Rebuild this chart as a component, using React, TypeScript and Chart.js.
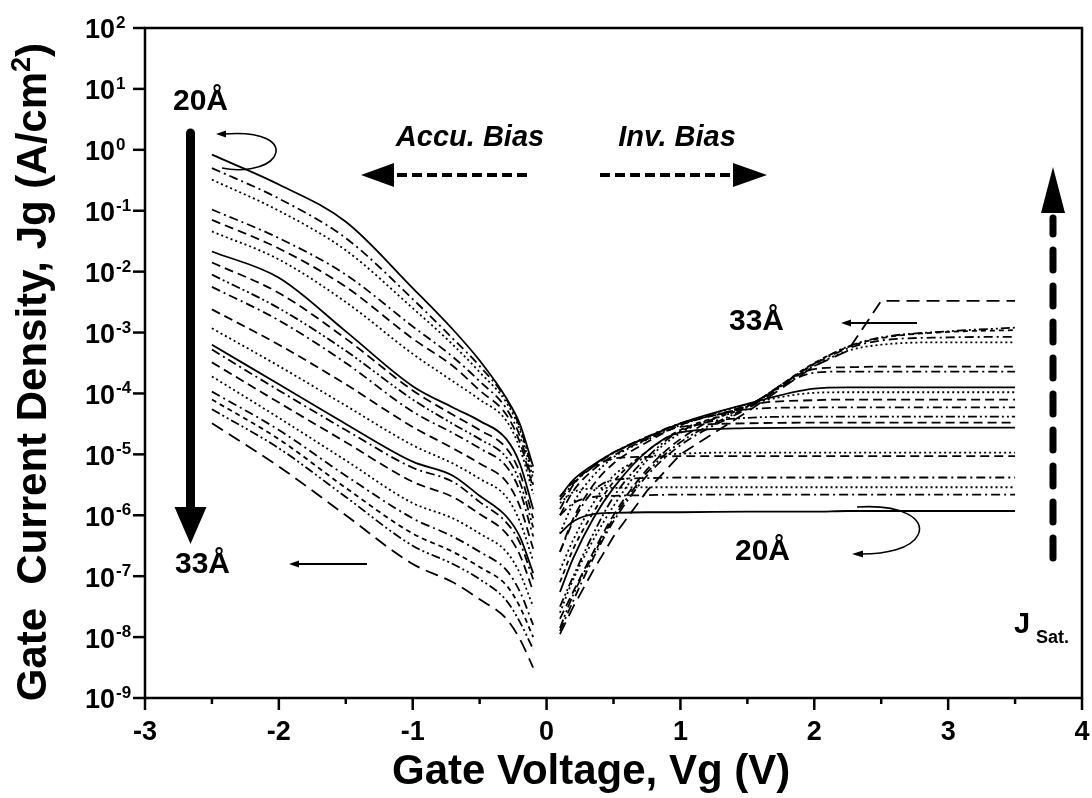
import React, { useEffect, useRef } from 'react';
import { Chart, registerables } from 'chart.js';

Chart.register(...registerables);

// Gate voltage grids (V)
const accuVg = [-2.5, -2.0, -1.5, -1.0, -0.7, -0.5, -0.3, -0.2, -0.1];
const invVg = [0.1, 0.2, 0.35, 0.5, 0.75, 1.0, 1.5, 2.0, 2.25, 2.5, 3.0, 3.5];

// log10(Jg) in accumulation bias, one row per oxide thickness (20 Å ... 33 Å)
const accuLogJ = [
  [-0.08, -0.57, -1.18, -2.27, -2.95, -3.46, -4.08, -4.5, -5.2],
  [-0.3, -0.8, -1.45, -2.45, -3.1, -3.55, -4.1, -4.55, -5.3],
  [-0.49, -1.0, -1.65, -2.6, -3.2, -3.65, -4.15, -4.6, -5.4],
  [-0.98, -1.45, -2.05, -2.9, -3.4, -3.8, -4.25, -4.7, -5.5],
  [-1.15, -1.62, -2.25, -3.1, -3.55, -3.95, -4.35, -4.8, -5.55],
  [-1.34, -1.8, -2.5, -3.35, -3.8, -4.1, -4.45, -4.9, -5.65],
  [-1.67, -2.1, -2.98, -3.88, -4.23, -4.45, -4.75, -5.15, -5.9],
  [-1.85, -2.35, -3.1, -3.95, -4.35, -4.6, -4.9, -5.3, -6.05],
  [-2.05, -2.6, -3.3, -4.1, -4.5, -4.75, -5.05, -5.45, -6.2],
  [-2.25, -2.8, -3.5, -4.3, -4.65, -4.9, -5.2, -5.6, -6.35],
  [-2.62, -3.2, -3.85, -4.55, -4.9, -5.15, -5.45, -5.85, -6.55],
  [-2.93, -3.55, -4.2, -4.85, -5.15, -5.4, -5.7, -6.1, -6.75],
  [-3.2, -3.85, -4.5, -5.12, -5.35, -5.68, -6.02, -6.35, -6.95],
  [-3.28, -3.95, -4.6, -5.22, -5.45, -5.78, -6.12, -6.45, -7.05],
  [-3.49, -4.15, -4.8, -5.45, -5.7, -5.98, -6.3, -6.65, -7.25],
  [-3.72, -4.4, -5.1, -5.8, -6.05, -6.3, -6.6, -6.95, -7.5],
  [-3.97, -4.6, -5.35, -6.05, -6.35, -6.6, -6.9, -7.25, -7.8],
  [-4.1, -4.75, -5.55, -6.3, -6.6, -6.85, -7.15, -7.5, -8.0],
  [-4.26, -4.9, -5.7, -6.5, -6.8, -7.05, -7.4, -7.75, -8.2],
  [-4.49, -5.2, -6.0, -6.8, -7.1, -7.38, -7.7, -8.03, -8.5],
];

// log10(Jg) in inversion bias, same row order
const invLogJ = [
  [-6.3, -6.1, -5.98, -5.96, -5.95, -5.95, -5.94, -5.94, -5.93, -5.93, -5.93, -5.93],
  [-6.0, -5.8, -5.7, -5.68, -5.67, -5.66, -5.66, -5.66, -5.66, -5.66, -5.66, -5.66],
  [-5.8, -5.62, -5.56, -5.55, -5.54, -5.54, -5.54, -5.54, -5.54, -5.54, -5.54, -5.54],
  [-6.6, -6.1, -5.6, -5.42, -5.39, -5.38, -5.38, -5.38, -5.38, -5.38, -5.38, -5.38],
  [-5.7, -5.45, -5.2, -5.07, -5.04, -5.03, -5.03, -5.03, -5.03, -5.03, -5.03, -5.03],
  [-6.9, -6.4, -5.8, -5.35, -5.05, -4.99, -4.97, -4.97, -4.97, -4.97, -4.97, -4.97],
  [-7.26, -6.7, -6.05, -5.55, -4.95, -4.64, -4.57, -4.56, -4.56, -4.56, -4.56, -4.56],
  [-6.0, -5.6, -5.25, -5.02, -4.75, -4.55, -4.49, -4.48, -4.48, -4.48, -4.48, -4.48],
  [-7.5, -7.0, -6.3, -5.7, -5.05, -4.62, -4.4, -4.38, -4.38, -4.38, -4.38, -4.38],
  [-5.75, -5.48, -5.2, -4.98, -4.72, -4.5, -4.26, -4.23, -4.23, -4.23, -4.23, -4.23],
  [-7.7, -7.25, -6.6, -6.0, -5.25, -4.75, -4.2, -4.11, -4.1, -4.1, -4.1, -4.1],
  [-6.3, -5.8, -5.35, -5.05, -4.76, -4.52, -4.18, -3.99, -3.98, -3.98, -3.98, -3.98],
  [-5.69, -5.42, -5.17, -4.97, -4.72, -4.49, -4.17, -3.92, -3.9, -3.9, -3.9, -3.9],
  [-7.9, -7.4, -6.7, -6.1, -5.35, -4.85, -4.25, -3.66, -3.64, -3.64, -3.64, -3.64],
  [-6.6, -6.05, -5.5, -5.15, -4.8, -4.52, -4.2, -3.6, -3.57, -3.56, -3.56, -3.56],
  [-7.6, -7.05, -6.4, -5.85, -5.1, -4.65, -4.21, -3.55, -3.3, -3.2, -3.16, -3.16],
  [-5.9, -5.5, -5.18, -4.97, -4.71, -4.49, -4.2, -3.52, -3.26, -3.13, -3.08, -3.07],
  [-7.1, -6.55, -5.95, -5.45, -4.95, -4.6, -4.21, -3.5, -3.24, -3.09, -2.99, -2.96],
  [-7.85, -7.3, -6.65, -6.05, -5.3, -4.8, -4.22, -3.51, -3.23, -3.08, -2.98, -2.92],
  [-7.95, -7.5, -6.9, -6.35, -5.6, -5.0, -4.3, -3.55, -3.3, -2.48, -2.48, -2.48],
];

const lineStyles = [
  'solid', 'dashdot', 'dot', 'dashdot', 'dash', 'dot', 'solid', 'dash', 'dashdotdot', 'dashdot',
  'dash', 'dot', 'solid', 'dashdot', 'dash', 'dot', 'dashdot', 'shortdash', 'dashdotdot', 'longdash',
];

const xMajorTicks = [-3, -2, -1, 0, 1, 2, 3, 4];
const xMinorTicks = [-2.5, -1.5, -0.5, 0.5, 1.5, 2.5, 3.5];
const yExponents = [2, 1, 0, -1, -2, -3, -4, -5, -6, -7, -8, -9];

const DASH: Record<string, number[]> = {
  solid: [],
  dash: [9, 5],
  dashdot: [9, 4, 2, 4],
  dot: [2, 3],
  dashdotdot: [9, 3, 2, 3, 2, 3],
  shortdash: [5, 4],
  longdash: [13, 7],
};

const FONT = '"Liberation Sans", Arial, Helvetica, sans-serif';

function arrowHead(ctx: CanvasRenderingContext2D, tipX: number, tipY: number, dx: number, dy: number, len: number, half: number) {
  const bx = tipX - dx * len;
  const by = tipY - dy * len;
  ctx.beginPath();
  ctx.moveTo(tipX, tipY);
  ctx.lineTo(bx - dy * half, by + dx * half);
  ctx.lineTo(bx + dy * half, by - dx * half);
  ctx.closePath();
  ctx.fill();
}

const annotPlugin = {
  id: 'annot',
  afterDraw(chart: any) {
    const { ctx, chartArea: a, scales } = chart;
    const xs = scales.x;
    const ys = scales.y;
    ctx.save();
    ctx.strokeStyle = '#000';
    ctx.fillStyle = '#000';
    ctx.setLineDash([]);

    // frame
    ctx.lineWidth = 2.5;
    ctx.strokeRect(a.left, a.top, a.right - a.left, a.bottom - a.top);

    // x ticks
    for (const v of xMajorTicks) {
      const px = xs.getPixelForValue(v);
      ctx.beginPath();
      ctx.moveTo(px, a.bottom);
      ctx.lineTo(px, a.bottom + 12);
      ctx.stroke();
    }
    for (const v of xMinorTicks) {
      const px = xs.getPixelForValue(v);
      ctx.beginPath();
      ctx.moveTo(px, a.bottom);
      ctx.lineTo(px, a.bottom + 6);
      ctx.stroke();
    }
    // y ticks
    for (const e of yExponents) {
      const py = ys.getPixelForValue(Math.pow(10, e));
      ctx.beginPath();
      ctx.moveTo(a.left - 12, py);
      ctx.lineTo(a.left, py);
      ctx.stroke();
    }

    // x tick labels
    ctx.font = `bold 27px ${FONT}`;
    ctx.textAlign = 'center';
    ctx.textBaseline = 'middle';
    for (const v of xMajorTicks) {
      ctx.fillText(String(v), xs.getPixelForValue(v), a.bottom + 35);
    }
    // y tick labels 10^n
    for (const e of yExponents) {
      const py = ys.getPixelForValue(Math.pow(10, e));
      ctx.font = `bold 27px ${FONT}`;
      ctx.textAlign = 'right';
      ctx.textBaseline = 'middle';
      ctx.fillText('10', a.left - 30, py + 3);
      ctx.font = `bold 17px ${FONT}`;
      ctx.textAlign = 'left';
      ctx.textBaseline = 'alphabetic';
      ctx.fillText(String(e), a.left - 29, py);
    }

    // axis titles
    ctx.font = `bold 42px ${FONT}`;
    ctx.textAlign = 'left';
    ctx.textBaseline = 'alphabetic';
    ctx.fillText('Gate Voltage, Vg (V)', 392, 784);

    ctx.save();
    ctx.translate(46, 0);
    ctx.rotate(-Math.PI / 2);
    const t1 = 'Gate  Current Density, Jg (A/cm';
    const t2 = '2';
    const t3 = ')';
    ctx.font = `bold 42px ${FONT}`;
    const w1 = ctx.measureText(t1).width;
    const w3 = ctx.measureText(t3).width;
    ctx.font = `bold 27px ${FONT}`;
    const w2 = ctx.measureText(t2).width;
    const total = w1 + w2 + w3;
    const start = -43 - total;
    ctx.textAlign = 'left';
    ctx.font = `bold 42px ${FONT}`;
    ctx.fillText(t1, start, 0);
    ctx.font = `bold 27px ${FONT}`;
    ctx.fillText(t2, start + w1, -16);
    ctx.font = `bold 42px ${FONT}`;
    ctx.fillText(t3, start + w1 + w2, 0);
    ctx.restore();

    // ---- annotations ----
    ctx.font = `bold 30px ${FONT}`;
    ctx.textAlign = 'left';
    ctx.textBaseline = 'alphabetic';
    ctx.fillText('20Å', 173, 110);
    ctx.fillText('33Å', 175, 573);
    ctx.fillText('33Å', 729, 330);
    ctx.fillText('20Å', 735, 560);

    // big thickness arrow (down)
    ctx.lineWidth = 9;
    ctx.lineCap = 'round';
    ctx.beginPath();
    ctx.moveTo(190.5, 133);
    ctx.lineTo(190.5, 510);
    ctx.stroke();
    ctx.lineCap = 'butt';
    arrowHead(ctx, 190.5, 544, 0, 1, 37, 16);

    // thin arrows
    ctx.lineWidth = 2;
    ctx.beginPath();
    ctx.moveTo(367, 564);
    ctx.lineTo(296, 564);
    ctx.stroke();
    arrowHead(ctx, 289, 564, -1, 0, 10, 3.5);
    ctx.beginPath();
    ctx.moveTo(917, 323);
    ctx.lineTo(848, 323);
    ctx.stroke();
    arrowHead(ctx, 841, 323, -1, 0, 10, 3.5);

    // loop arrow (top-left)
    ctx.lineWidth = 1.6;
    ctx.beginPath();
    ctx.moveTo(224, 134);
    ctx.bezierCurveTo(262, 131, 283, 142, 274, 157);
    ctx.bezierCurveTo(266, 169, 240, 172, 222, 168);
    ctx.stroke();
    arrowHead(ctx, 216, 134, -1, 0, 10, 3.5);

    // loop arrow (right)
    ctx.beginPath();
    ctx.moveTo(857, 507);
    ctx.bezierCurveTo(902, 504, 926, 519, 918, 535);
    ctx.bezierCurveTo(911, 549, 885, 554, 862, 554);
    ctx.stroke();
    arrowHead(ctx, 852, 554, -1, 0, 11, 3.5);

    // bias texts
    ctx.font = `italic bold 29px ${FONT}`;
    ctx.textAlign = 'center';
    ctx.fillText('Accu. Bias', 470, 146);
    ctx.fillText('Inv. Bias', 677, 146);

    // dashed bias arrows
    ctx.lineWidth = 4;
    ctx.setLineDash([10, 5]);
    ctx.beginPath();
    ctx.moveTo(527, 175);
    ctx.lineTo(393, 175);
    ctx.stroke();
    ctx.beginPath();
    ctx.moveTo(600, 175);
    ctx.lineTo(733, 175);
    ctx.stroke();
    ctx.setLineDash([]);
    arrowHead(ctx, 361, 175, -1, 0, 33, 12);
    arrowHead(ctx, 767, 175, 1, 0, 34, 12);

    // J_sat vertical dashed arrow
    ctx.lineWidth = 7;
    ctx.lineCap = 'round';
    ctx.setLineDash([20, 16]);
    ctx.beginPath();
    ctx.moveTo(1053, 558);
    ctx.lineTo(1053, 218);
    ctx.stroke();
    ctx.setLineDash([]);
    ctx.lineCap = 'butt';
    arrowHead(ctx, 1053, 167, 0, -1, 46, 12);

    ctx.font = `bold 29px ${FONT}`;
    ctx.textAlign = 'left';
    ctx.fillText('J', 1014, 633);
    ctx.font = `bold 18px ${FONT}`;
    ctx.fillText('Sat.', 1036, 643);

    ctx.restore();
  },
};

export default function App() {
  const ref = useRef<HTMLCanvasElement | null>(null);

  useEffect(() => {
    if (!ref.current) return;
    const datasets: any[] = [];
    accuLogJ.forEach((row, i) => {
      datasets.push({
        data: accuVg.map((x, k) => ({ x, y: Math.pow(10, row[k]) })),
        borderColor: '#000',
        borderWidth: 1.8,
        borderDash: DASH[lineStyles[i]],
        pointRadius: 0,
        fill: false,
        cubicInterpolationMode: 'monotone',
      });
    });
    invLogJ.forEach((row, i) => {
      const last = i === invLogJ.length - 1;
      datasets.push({
        data: invVg.map((x, k) => ({ x, y: Math.pow(10, row[k]) })),
        borderColor: '#000',
        borderWidth: 1.8,
        borderDash: DASH[lineStyles[i]],
        pointRadius: 0,
        fill: false,
        cubicInterpolationMode: last ? 'default' : 'monotone',
        tension: last ? 0 : 0.4,
      });
    });

    const chart = new Chart(ref.current, {
      type: 'line',
      data: { datasets },
      options: {
        responsive: false,
        animation: false,
        events: [],
        layout: { padding: { top: 28, right: 10, left: 0, bottom: 0 } },
        plugins: { legend: { display: false }, tooltip: { enabled: false } },
        scales: {
          x: {
            type: 'linear',
            min: -3,
            max: 4,
            ticks: { display: false },
            grid: { display: false },
            border: { display: false },
            afterFit: (s: any) => {
              s.height = 100;
            },
          },
          y: {
            type: 'logarithmic',
            min: 1e-9,
            max: 1e2,
            ticks: { display: false },
            grid: { display: false },
            border: { display: false },
            afterFit: (s: any) => {
              s.width = 145;
            },
          },
        },
      },
      plugins: [annotPlugin],
    } as any);
    return () => chart.destroy();
  }, []);

  return (
    <div style={{ position: 'fixed', left: 0, top: 0, width: 1092, height: 798, background: '#fff' }}>
      <canvas ref={ref} width={1092} height={798} style={{ display: 'block', width: 1092, height: 798 }} />
    </div>
  );
}
